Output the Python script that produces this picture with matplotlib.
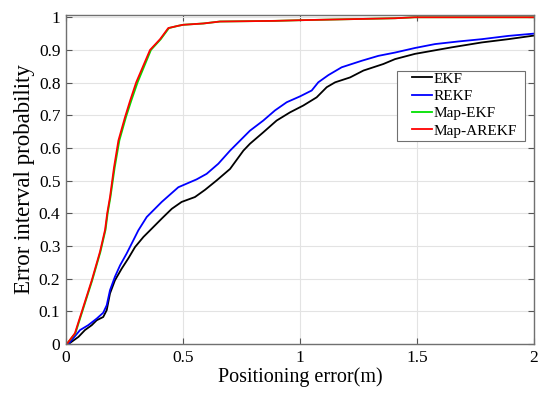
import numpy as np
import matplotlib.pyplot as plt
from matplotlib.patches import Rectangle

plt.rcParams["font.family"] = ["Liberation Serif", "DejaVu Serif"]

# EKF
ekf_x = [0, 0.01, 0.053, 0.081, 0.11, 0.131, 0.159, 0.174, 0.188, 0.209, 0.238, 0.266,
         0.295, 0.331, 0.359, 0.409, 0.452, 0.494, 0.551, 0.594, 0.644, 0.701, 0.758,
         0.786, 0.843, 0.9, 0.957, 1.014, 1.071, 1.114, 1.15, 1.214, 1.271, 1.356,
         1.406, 1.491, 1.648, 1.777, 1.89, 2.0]
ekf_p = [0, 0, 0.022, 0.043, 0.058, 0.073, 0.083, 0.104, 0.155, 0.195, 0.231, 0.262,
         0.297, 0.328, 0.348, 0.384, 0.414, 0.435, 0.45, 0.472, 0.501, 0.536, 0.592,
         0.613, 0.648, 0.684, 0.709, 0.73, 0.755, 0.786, 0.801, 0.816, 0.837, 0.857,
         0.872, 0.888, 0.908, 0.923, 0.933, 0.944]

# REKF
rekf_x = [0, 0.01, 0.06, 0.095, 0.131, 0.159, 0.174, 0.188, 0.209, 0.231, 0.259, 0.288,
          0.309, 0.345, 0.409, 0.48, 0.558, 0.601, 0.651, 0.701, 0.786, 0.843, 0.893,
          0.943, 1.0, 1.05, 1.078, 1.121, 1.178, 1.264, 1.335, 1.406, 1.491, 1.577,
          1.677, 1.777, 1.89, 2.0]
rekf_p = [0, 0, 0.043, 0.058, 0.078, 0.096, 0.119, 0.165, 0.206, 0.241, 0.277, 0.318,
          0.348, 0.389, 0.435, 0.48, 0.504, 0.521, 0.552, 0.592, 0.653, 0.684, 0.715,
          0.74, 0.758, 0.776, 0.801, 0.823, 0.847, 0.867, 0.882, 0.892, 0.906, 0.918,
          0.926, 0.933, 0.943, 0.95]

# Map-EKF
mekf_x = [0, 0.003, 0.04, 0.076, 0.112, 0.147, 0.169, 0.178, 0.19, 0.208, 0.228, 0.256,
          0.279, 0.306, 0.363, 0.405, 0.44, 0.48, 0.501, 0.587, 0.658, 0.893, 1.0,
          1.406, 1.49, 2.0]
mekf_p = [0, 0, 0.033, 0.114, 0.195, 0.282, 0.35, 0.40, 0.45, 0.54, 0.623, 0.694,
          0.745, 0.801, 0.9, 0.933, 0.967, 0.974, 0.977, 0.981, 0.987, 0.989, 0.991,
          0.997, 1.0, 1.0]

# Map-AREKF
marekf_x = [0, 0.003, 0.038, 0.074, 0.11, 0.145, 0.167, 0.176, 0.188, 0.205, 0.224,
            0.252, 0.274, 0.3, 0.359, 0.402, 0.437, 0.48, 0.501, 0.587, 0.658, 0.893,
            1.0, 1.406, 1.49, 2.0]
marekf_p = [0, 0, 0.033, 0.114, 0.195, 0.282, 0.35, 0.40, 0.45, 0.54, 0.623, 0.694,
            0.745, 0.801, 0.9, 0.933, 0.967, 0.974, 0.977, 0.981, 0.987, 0.989, 0.991,
            0.997, 1.0, 1.0]

fig = plt.figure(figsize=(5.5, 3.96), dpi=100)
ax = fig.add_axes([0.12, 0.131, 0.851, 0.832])

ax.plot(ekf_x, ekf_p, color="black", lw=1.3, label="EKF")
ax.plot(rekf_x, rekf_p, color="blue", lw=1.3, label="REKF")
ax.plot(mekf_x, mekf_p, color="#00e000", lw=1.3, label="Map-EKF")
ax.plot(marekf_x, marekf_p, color="red", lw=1.3, label="Map-AREKF")

ax.set_xlim(0, 2)
ax.set_ylim(0, 1.008)
ax.set_xticks([0, 0.5, 1, 1.5, 2])
ax.set_xticklabels(["0", "0.5", "1", "1.5", "2"])
ax.set_yticks(np.arange(0, 1.01, 0.1))
ax.set_yticklabels(["0", "0.1", "0.2", "0.3", "0.4", "0.5", "0.6", "0.7", "0.8", "0.9", "1"])
ax.grid(True, color="#e3e3e3", lw=0.8)
ax.set_axisbelow(True)
ax.tick_params(direction="in", top=True, right=True, labelsize=12.5, length=4,
               color="#555555", pad=4)
for s in ax.spines.values():
    s.set_color("#707070")
    s.set_linewidth(1.0)

ax.set_xlabel("Positioning error(m)", fontsize=14.5, labelpad=1)
ax.set_ylabel("Error interval probability", fontsize=16.5, labelpad=3)

# 凡例 (枠は別に描く)
leg = ax.legend(loc="upper left", bbox_to_anchor=(411.7 / 550, 1 - 72 / 396),
                bbox_transform=fig.transFigure, fontsize=11, frameon=False,
                handlelength=1.3, handletextpad=0.15, labelspacing=0.24,
                borderpad=0, borderaxespad=0)
leg.set_zorder(5)
ax.add_patch(Rectangle((396.7 / 550, 1 - 140.7 / 396), 128.3 / 550, 70 / 396,
                       transform=fig.transFigure, facecolor="white",
                       edgecolor="#707070", lw=0.8, zorder=4))

plt.savefig("out.png", dpi=100)
